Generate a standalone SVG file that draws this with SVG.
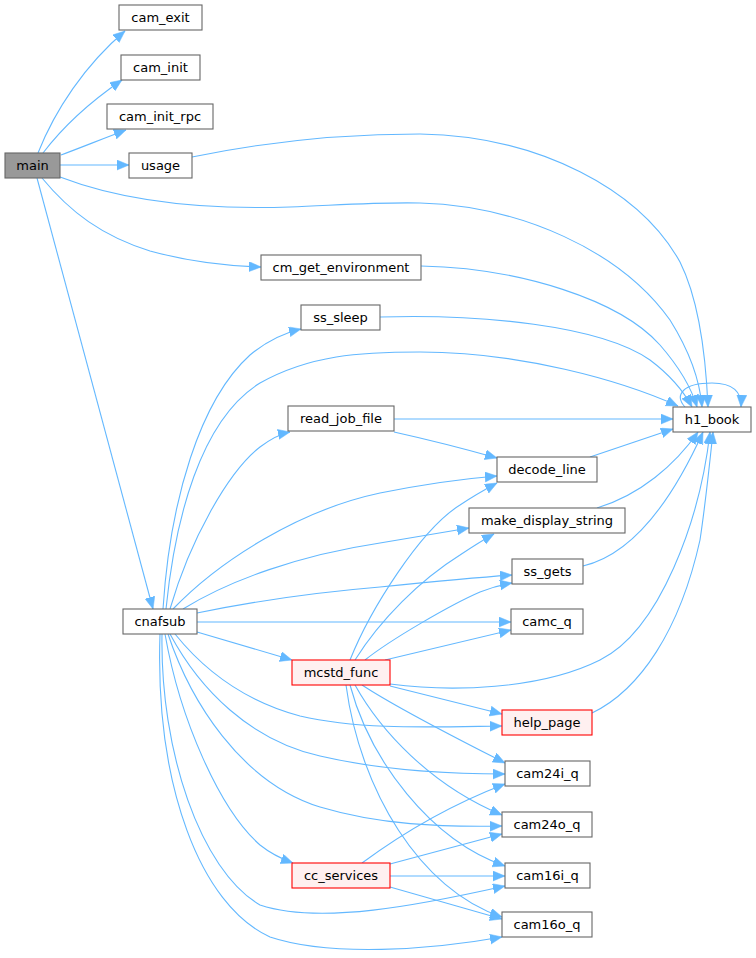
<svg xmlns="http://www.w3.org/2000/svg" width="756" height="958" viewBox="0 0 756 958">
<defs>
<marker id="arr" markerUnits="userSpaceOnUse" markerWidth="14" markerHeight="11" refX="12" refY="5" orient="auto">
<path d="M0,0 L12,5 L0,10 z" fill="#63b8ff" stroke="#63b8ff" stroke-width="0.5"/>
</marker>
<style>
.e{fill:none;stroke:#63b8ff;stroke-width:1.1;marker-end:url(#arr)}
.n rect{fill:#ffffff;stroke:#666666;stroke-width:1.1}
.r rect{fill:#fff0f0;stroke:#ff0000;stroke-width:1.1}
.m rect{fill:#999999;stroke:#666666;stroke-width:1.1}
text{font-family:"DejaVu Sans","Liberation Sans",sans-serif;font-size:13px;fill:#000000;text-anchor:middle}
</style>
</defs>
<rect width="756" height="958" fill="#ffffff"/>
<g id="connectors">
<path class="e" d="M38,153 C55,110 85,65 125,31"/>
<path class="e" d="M43,153 C62,128 90,102 122,80"/>
<path class="e" d="M61,155 C80,148 102,139 126,130"/>
<path class="e" d="M60,165 L129,165"/>
<path class="e" d="M60,177 C120,200 200,210 290,207 C340,205 380,202 420,203 C520,206 620,250 670,320 C690,352 700,382 702,407"/>
<path class="e" d="M42,178 C70,212 102,236 150,251 C190,262 228,266 261,267"/>
<path class="e" d="M37,178 L153,609"/>
<path class="e" d="M192,157 C250,145 330,134 420,134 C540,136 640,190 680,262 C700,302 706,360 708,407"/>
<path class="e" d="M421,266 C520,268 620,300 660,345 C680,368 692,390 697,407"/>
<path class="e" d="M380,317 C480,314 600,325 650,360 C670,375 684,392 692,407"/>
<path class="e" d="M166,609 C175,520 200,420 260,383 C310,355 360,352 420,352 C520,352 620,380 678,406"/>
<path class="e" d="M163,609 C170,500 200,400 250,355 C268,340 284,333 301,329"/>
<path class="e" d="M170,609 C190,540 228,472 260,447 C272,438 280,434 290,432"/>
<path class="e" d="M685,407 C674,395 683,383 712,383 C733,383 742,392 741,407"/>
<path class="e" d="M394,419 L673,419"/>
<path class="e" d="M394,432 C430,440 465,449 497,458"/>
<path class="e" d="M590,457 L673,429"/>
<path class="e" d="M597,508 C640,495 675,465 698,432"/>
<path class="e" d="M583,566 C630,555 670,505 703,432"/>
<path class="e" d="M390,684 C450,692 540,690 600,660 C660,630 700,520 710,432"/>
<path class="e" d="M592,713 C640,690 680,630 700,540 C706,500 710,460 713,432"/>
<path class="e" d="M173,609 C220,560 300,510 380,493 C420,485 460,479 497,476"/>
<path class="e" d="M183,609 C230,580 300,555 380,543 C410,538 440,533 469,528"/>
<path class="e" d="M197,613 C260,600 320,592 380,587 C430,582 470,578 512,575"/>
<path class="e" d="M197,622 L511,622"/>
<path class="e" d="M197,632 L292,660"/>
<path class="e" d="M175,634 C200,665 240,700 300,716 C360,730 430,727 502,726"/>
<path class="e" d="M170,634 C200,690 250,740 320,756 C380,770 450,774 505,774"/>
<path class="e" d="M168,634 C190,700 240,782 320,807 C380,825 440,827 502,826"/>
<path class="e" d="M165,634 C180,720 220,810 260,845 C270,853 282,859 293,863"/>
<path class="e" d="M162,634 C160,750 200,870 260,905 C320,925 420,905 505,886"/>
<path class="e" d="M160,634 C155,785 200,905 270,937 C330,957 430,950 502,937"/>
<path class="e" d="M350,660 C370,610 420,530 460,505 C472,497 484,490 497,483"/>
<path class="e" d="M355,660 C380,620 420,580 460,555 C472,547 483,540 494,534"/>
<path class="e" d="M365,660 C390,640 450,605 480,592 C490,588 500,585 512,583"/>
<path class="e" d="M385,660 L511,630"/>
<path class="e" d="M390,686 L502,714"/>
<path class="e" d="M362,685 C400,710 460,740 505,763"/>
<path class="e" d="M355,685 C380,730 430,785 502,815"/>
<path class="e" d="M350,685 C370,760 430,840 505,866"/>
<path class="e" d="M346,685 C360,790 420,890 502,917"/>
<path class="e" d="M362,863 C400,835 450,805 505,784"/>
<path class="e" d="M390,864 L502,834"/>
<path class="e" d="M390,876 L505,876"/>
<path class="e" d="M390,887 L502,919"/>
</g>
<g id="main" class="m"><rect x="5" y="153" width="55" height="25"/><text x="32.5" y="170">main</text></g>
<g id="cam_exit" class="n"><rect x="119" y="5" width="83" height="25"/><text x="160.5" y="22">cam_exit</text></g>
<g id="cam_init" class="n"><rect x="121" y="55" width="79" height="25"/><text x="160.5" y="72">cam_init</text></g>
<g id="cam_init_rpc" class="n"><rect x="107" y="104" width="106" height="25"/><text x="160" y="121">cam_init_rpc</text></g>
<g id="usage" class="n"><rect x="129" y="153" width="63" height="25"/><text x="160.5" y="170">usage</text></g>
<g id="cm_get_environment" class="n"><rect x="261" y="255" width="160" height="25"/><text x="341" y="272">cm_get_environment</text></g>
<g id="ss_sleep" class="n"><rect x="301" y="305" width="79" height="25"/><text x="340.5" y="322">ss_sleep</text></g>
<g id="read_job_file" class="n"><rect x="288" y="406" width="106" height="25"/><text x="341" y="423">read_job_file</text></g>
<g id="h1_book" class="n"><rect x="673" y="407" width="78" height="25"/><text x="712" y="424">h1_book</text></g>
<g id="decode_line" class="n"><rect x="497" y="457" width="100" height="25"/><text x="547" y="474">decode_line</text></g>
<g id="make_display_string" class="n"><rect x="469" y="508" width="156" height="25"/><text x="547" y="525">make_display_string</text></g>
<g id="ss_gets" class="n"><rect x="512" y="559" width="71" height="25"/><text x="547.5" y="576">ss_gets</text></g>
<g id="camc_q" class="n"><rect x="511" y="609" width="72" height="25"/><text x="547" y="626">camc_q</text></g>
<g id="cnafsub" class="n"><rect x="123" y="609" width="74" height="25"/><text x="160" y="626">cnafsub</text></g>
<g id="mcstd_func" class="r"><rect x="292" y="660" width="98" height="25"/><text x="341" y="677">mcstd_func</text></g>
<g id="help_page" class="r"><rect x="502" y="710" width="90" height="25"/><text x="547" y="727">help_page</text></g>
<g id="cam24i_q" class="n"><rect x="505" y="761" width="85" height="25"/><text x="547.5" y="778">cam24i_q</text></g>
<g id="cam24o_q" class="n"><rect x="502" y="812" width="90" height="25"/><text x="547" y="829">cam24o_q</text></g>
<g id="cam16i_q" class="n"><rect x="505" y="863" width="85" height="25"/><text x="547.5" y="880">cam16i_q</text></g>
<g id="cam16o_q" class="n"><rect x="502" y="912" width="90" height="25"/><text x="547" y="929">cam16o_q</text></g>
<g id="cc_services" class="r"><rect x="292" y="863" width="98" height="25"/><text x="341" y="880">cc_services</text></g>
</svg>
